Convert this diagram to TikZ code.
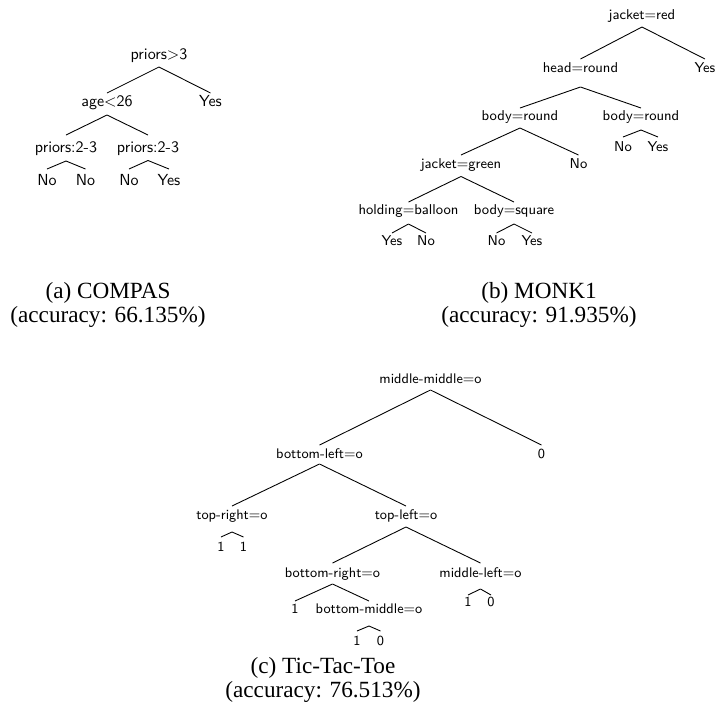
\documentclass[tikz,border=0pt]{standalone}
\usepackage{fontspec}
\newfontfamily\capfont{Liberation Serif}
\usetikzlibrary{calc}
\newcommand\tedge[4]{\draw[tline] ($(#1.base)+(0,#2)$) -- ($(#3.base)+(0,#4)$);}
\begin{document}
\begin{tikzpicture}[x=0.625pt,y=-0.625pt,
  ta/.style={font=\fontsize{10}{12}\sffamily, anchor=base, inner sep=0pt},
  tb/.style={font=\fontsize{8.9}{11}\sffamily, anchor=base, inner sep=0pt},
  tc/.style={font=\fontsize{8.7}{10.5}\sffamily, anchor=base, inner sep=0pt},
  captext/.style={font=\fontsize{14.5}{15}\capfont, align=center, anchor=base, inner sep=0pt},
  tline/.style={line width=0.55pt}]
\useasboundingbox (0,0) rectangle (715,708);
% ---------- (a) COMPAS ----------
\node[ta] (a0) at (159,59) {priors$>$3};
\node[ta] (a1) at (107,106) {age$<$26};
\node[ta] (a2) at (210.5,106) {Yes};
\node[ta] (a3) at (66,152) {priors:2-3};
\node[ta] (a4) at (148,152) {priors:2-3};
\node[ta] (a5) at (47,185) {No};
\node[ta] (a6) at (85.5,185) {No};
\node[ta] (a7) at (129,185) {No};
\node[ta] (a8) at (169,185) {Yes};
\tedge{a0}{8}{a1}{-13}
\tedge{a0}{8}{a2}{-13}
\tedge{a1}{9}{a3}{-17}
\tedge{a1}{9}{a4}{-17}
\tedge{a3}{9}{a5}{-16}
\tedge{a3}{9}{a6}{-16}
\tedge{a4}{8.5}{a7}{-16}
\tedge{a4}{8.5}{a8}{-16}
\node[captext] (capa) at (108,322) {(a) COMPAS\\(accuracy: 66.135\%)};
% ---------- (b) MONK1 ----------
\node[tb] (b0) at (642,19) {jacket$=$red};
\node[tb] (b1) at (580.5,72) {head$=$round};
\node[tb] (b2) at (705,72) {Yes};
\node[tb] (b3) at (520,120) {body$=$round};
\node[tb] (b4) at (641,120) {body$=$round};
\node[tb] (b5) at (623,151) {No};
\node[tb] (b6) at (658,151) {Yes};
\node[tb] (b7) at (461,168.5) {jacket$=$green};
\node[tb] (b8) at (578.5,168.5) {No};
\node[tb] (b9) at (408.5,214) {holding$=$balloon};
\node[tb] (b10) at (514,214) {body$=$square};
\node[tb] (b11) at (392,245) {Yes};
\node[tb] (b12) at (426,245) {No};
\node[tb] (b13) at (496.5,245) {No};
\node[tb] (b14) at (532,245) {Yes};
\tedge{b0}{8}{b1}{-13}
\tedge{b0}{8}{b2}{-13}
\tedge{b1}{15}{b3}{-12}
\tedge{b1}{15}{b4}{-12}
\tedge{b4}{10}{b5}{-14}
\tedge{b4}{10}{b6}{-14}
\tedge{b3}{8}{b7}{-13.5}
\tedge{b3}{8}{b8}{-13.5}
\tedge{b7}{8}{b9}{-12}
\tedge{b7}{8}{b10}{-12}
\tedge{b9}{10}{b11}{-12}
\tedge{b9}{10}{b12}{-12}
\tedge{b10}{10}{b13}{-12}
\tedge{b10}{10}{b14}{-12}
\node[captext] (capb) at (539,322) {(b) MONK1\\(accuracy: 91.935\%)};
% ---------- (c) Tic-Tac-Toe ----------
\node[tc] (c0) at (430.5,383) {middle-middle$=$o};
\node[tc] (c1) at (319.5,458) {bottom-left$=$o};
\node[tc] (c2) at (541.5,458) {0};
\node[tc] (c3) at (232,519) {top-right$=$o};
\node[tc] (c4) at (406,519) {top-left$=$o};
\node[tc] (c5) at (221,551) {1};
\node[tc] (c6) at (243.5,551) {1};
\node[tc] (c7) at (332.5,577) {bottom-right$=$o};
\node[tc] (c8) at (480.5,577) {middle-left$=$o};
\node[tc] (c9) at (295,613) {1};
\node[tc] (c10) at (369,613) {bottom-middle$=$o};
\node[tc] (c11) at (468,606) {1};
\node[tc] (c12) at (491,606) {0};
\node[tc] (c13) at (357,645) {1};
\node[tc] (c14) at (380.5,645) {0};
\tedge{c0}{7}{c1}{-13}
\tedge{c0}{7}{c2}{-13}
\tedge{c1}{6}{c3}{-13}
\tedge{c1}{6}{c4}{-13}
\tedge{c3}{13}{c5}{-14}
\tedge{c3}{13}{c6}{-14}
\tedge{c4}{8}{c7}{-14}
\tedge{c4}{8}{c8}{-14}
\tedge{c7}{7}{c9}{-12}
\tedge{c7}{7}{c10}{-12}
\tedge{c8}{12}{c11}{-11}
\tedge{c8}{12}{c12}{-11}
\tedge{c10}{13}{c13}{-14}
\tedge{c10}{13}{c14}{-14}
\node[captext] (capc) at (323,697) {(c) Tic-Tac-Toe\\(accuracy: 76.513\%)};
\end{tikzpicture}
\end{document}
